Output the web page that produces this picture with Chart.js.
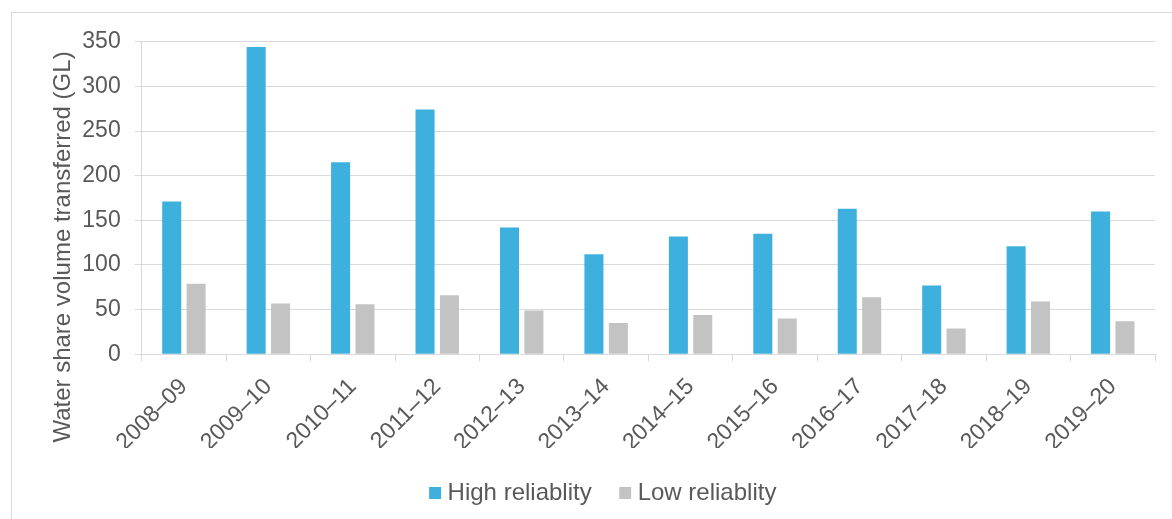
<!DOCTYPE html>
<html>
<head>
<meta charset="utf-8">
<script src="https://cdn.jsdelivr.net/npm/chart.js"></script>
<style>
  html, body { margin: 0; padding: 0; background: #fff; overflow: hidden; }
  #wrap { position: relative; width: 1172px; height: 519px; }
  #frame {
    position: absolute; left: 11px; top: 12px; width: 1200px; height: 560px;
    border-left: 1px solid #d9d9d9; border-top: 1px solid #d9d9d9;
  }
  #chart { position: absolute; left: 0; top: 0; }
</style>
</head>
<body>
<div id="wrap">
  <div id="frame"></div>
  <canvas id="chart" width="1172" height="519"></canvas>
</div>
<script>
// Water share volume transferred per season, GL
const seasons = ['2008–09', '2009–10', '2010–11', '2011–12', '2012–13', '2013–14',
  '2014–15', '2015–16', '2016–17', '2017–18', '2018–19', '2019–20'];
const highReliability = [171, 344, 215, 274, 142, 112, 132, 135, 163, 77, 121, 160];
const lowReliability = [79, 57, 56, 66, 49, 35, 44, 40, 64, 29, 59, 37];
const yTicks = [0, 50, 100, 150, 200, 250, 300, 350];

const textColor = '#595959';
const gridColor = '#d9d9d9';
const fontFamily = "'Liberation Sans', Arial, sans-serif";

Chart.defaults.font.family = fontFamily;
Chart.defaults.color = textColor;

// y-axis title drawn by hand so it can sit lower than the plot centre
const axisTitle = {
  id: 'axisTitle',
  afterDraw(chart) {
    const ctx = chart.ctx;
    ctx.save();
    ctx.translate(70, 247);
    ctx.rotate(-Math.PI / 2);
    ctx.font = '24px ' + fontFamily;
    ctx.fillStyle = textColor;
    ctx.textAlign = 'center';
    ctx.textBaseline = 'alphabetic';
    ctx.fillText('Water share volume transferred (GL)', 0, 0);
    ctx.restore();
  }
};

new Chart(document.getElementById('chart').getContext('2d'), {
  type: 'bar',
  data: {
    labels: seasons,
    datasets: [
      {
        label: 'High reliablity',
        data: highReliability,
        backgroundColor: '#3db0de',
        borderWidth: 0,
        categoryPercentage: 0.578,
        barPercentage: 0.78
      },
      {
        label: 'Low reliablity',
        data: lowReliability,
        backgroundColor: '#c3c3c3',
        borderWidth: 0,
        categoryPercentage: 0.578,
        barPercentage: 0.78
      }
    ]
  },
  options: {
    responsive: false,
    animation: false,
    layout: { padding: { left: 56, right: 17, top: 41.7, bottom: 4 } },
    plugins: {
      tooltip: { enabled: false },
      legend: {
        position: 'bottom',
        labels: {
          font: { size: 24 },
          color: textColor,
          usePointStyle: true,
          pointStyle: 'rect',
          boxWidth: 1,
          boxHeight: 12,
          padding: 33
        }
      }
    },
    scales: {
      x: {
        grid: { display: true, drawOnChartArea: false, drawTicks: true, tickLength: 7, color: gridColor },
        border: { color: gridColor },
        ticks: { font: { size: 23 }, color: textColor, maxRotation: 45, minRotation: 45, padding: 12 },
        afterFit(scale) { scale.height = 93.7; }
      },
      y: {
        min: 0,
        max: 350,
        afterBuildTicks(scale) { scale.ticks = yTicks.map(v => ({ value: v })); },
        grid: { color: gridColor, tickLength: 7 },
        border: { color: gridColor },
        ticks: { font: { size: 23 }, color: textColor, padding: 14 },
        afterFit(scale) { scale.width = 85.7; }
      }
    }
  },
  plugins: [axisTitle]
});
</script>
</body>
</html>
